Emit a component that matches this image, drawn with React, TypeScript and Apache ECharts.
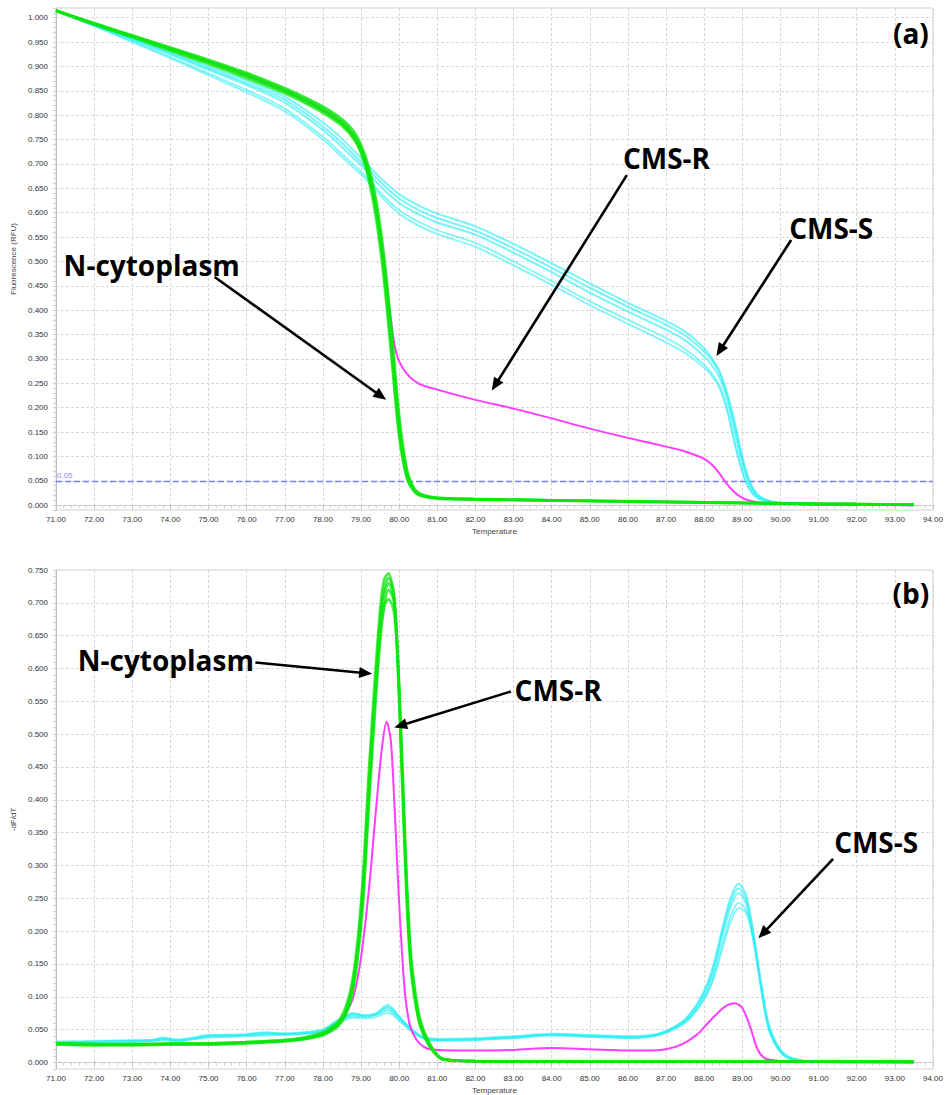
import React, { useEffect, useRef } from "react";
import * as echarts from "echarts";

// ---------- axes ----------
const X_MIN = 71;
const X_MAX = 94;
const GRID_LINES_A = [0, 0.05, 0.1, 0.15, 0.2, 0.25, 0.3, 0.35, 0.4, 0.45, 0.5, 0.55, 0.6, 0.65, 0.7, 0.75, 0.8, 0.85, 0.9, 0.95, 1.0];
const GRID_LINES_B = [0, 0.05, 0.1, 0.15, 0.2, 0.25, 0.3, 0.35, 0.4, 0.45, 0.5, 0.55, 0.6, 0.65, 0.7];
const THRESHOLD = 0.05;

// ---------- (a) melt curves: Fluorescence (RFU) ----------
const TEMP_MELT_N = [71, 72, 73, 74, 75, 76, 77, 77.5, 78, 78.5, 78.8, 79, 79.2, 79.4, 79.6, 79.8, 80, 80.2, 80.4, 80.6, 81, 82, 84, 86, 88, 90, 92, 93.5];
const MELT_N_1 = [1.015, 0.988, 0.962, 0.936, 0.91, 0.882, 0.85, 0.832, 0.811, 0.784, 0.758, 0.729, 0.68, 0.606, 0.489, 0.332, 0.161, 0.065, 0.03, 0.02, 0.014, 0.012, 0.01, 0.008, 0.006, 0.004, 0.002, 0.001];
const MELT_N_2 = [1.015, 0.987, 0.96, 0.932, 0.905, 0.876, 0.845, 0.826, 0.805, 0.778, 0.752, 0.722, 0.668, 0.585, 0.462, 0.3, 0.14, 0.055, 0.027, 0.018, 0.013, 0.011, 0.009, 0.007, 0.005, 0.003, 0.002, 0.001];
const MELT_N_3 = [1.015, 0.989, 0.964, 0.939, 0.914, 0.887, 0.856, 0.838, 0.818, 0.792, 0.768, 0.74, 0.695, 0.625, 0.515, 0.362, 0.185, 0.075, 0.034, 0.022, 0.015, 0.013, 0.01, 0.008, 0.006, 0.004, 0.002, 0.001];
const MELT_N_4 = [1.014, 0.986, 0.961, 0.935, 0.908, 0.88, 0.849, 0.83, 0.809, 0.782, 0.755, 0.726, 0.676, 0.6, 0.478, 0.318, 0.15, 0.06, 0.029, 0.019, 0.014, 0.012, 0.01, 0.007, 0.005, 0.003, 0.002, 0.001];
const MELT_N_5 = [1.015, 0.988, 0.963, 0.938, 0.912, 0.885, 0.853, 0.835, 0.815, 0.788, 0.763, 0.735, 0.688, 0.615, 0.502, 0.346, 0.172, 0.07, 0.032, 0.021, 0.015, 0.012, 0.01, 0.008, 0.006, 0.004, 0.002, 0.001];

const TEMP_MELT_R = [71, 72, 73, 74, 75, 76, 77, 77.5, 78, 78.5, 78.8, 79, 79.2, 79.4, 79.6, 79.8, 79.9, 80, 80.2, 80.5, 81, 82, 83, 84, 85, 86, 87, 87.5, 88, 88.3, 88.6, 88.8, 89, 89.2, 89.5, 90, 91, 93.5];
const MELT_R = [1.015, 0.988, 0.962, 0.936, 0.91, 0.882, 0.85, 0.832, 0.811, 0.784, 0.758, 0.729, 0.68, 0.606, 0.5, 0.37, 0.32, 0.295, 0.27, 0.25, 0.237, 0.216, 0.198, 0.178, 0.157, 0.138, 0.12, 0.11, 0.095, 0.075, 0.043, 0.026, 0.015, 0.009, 0.005, 0.003, 0.001, 0.0];

const TEMP_MELT_S = [71, 72, 73, 74, 75, 76, 77, 78, 78.5, 79, 79.5, 80, 80.5, 81, 82, 83, 84, 85, 86, 87, 87.5, 88, 88.2, 88.4, 88.6, 88.8, 89, 89.2, 89.4, 89.7, 90, 91, 92, 93.5];
const MELT_S_1 = [1.015, 0.985, 0.955, 0.925, 0.893, 0.862, 0.826, 0.77, 0.735, 0.697, 0.655, 0.62, 0.597, 0.58, 0.555, 0.518, 0.478, 0.436, 0.397, 0.36, 0.338, 0.305, 0.287, 0.262, 0.215, 0.15, 0.085, 0.04, 0.018, 0.008, 0.005, 0.002, 0.001, 0.0];
const MELT_S_2 = [1.015, 0.986, 0.958, 0.93, 0.9, 0.871, 0.838, 0.785, 0.752, 0.712, 0.672, 0.638, 0.615, 0.598, 0.572, 0.536, 0.496, 0.455, 0.415, 0.378, 0.356, 0.322, 0.302, 0.275, 0.23, 0.17, 0.1, 0.048, 0.022, 0.009, 0.005, 0.002, 0.001, 0.0];
const MELT_S_3 = [1.015, 0.984, 0.952, 0.92, 0.886, 0.852, 0.814, 0.756, 0.72, 0.684, 0.642, 0.605, 0.582, 0.564, 0.538, 0.5, 0.46, 0.418, 0.38, 0.343, 0.32, 0.288, 0.27, 0.245, 0.198, 0.13, 0.07, 0.032, 0.015, 0.007, 0.004, 0.002, 0.001, 0.0];
const MELT_S_4 = [1.015, 0.985, 0.956, 0.927, 0.896, 0.866, 0.832, 0.777, 0.743, 0.704, 0.664, 0.629, 0.606, 0.589, 0.563, 0.527, 0.487, 0.446, 0.407, 0.37, 0.348, 0.315, 0.297, 0.272, 0.228, 0.163, 0.092, 0.044, 0.02, 0.008, 0.005, 0.002, 0.001, 0.0];
const MELT_S_5 = [1.014, 0.983, 0.95, 0.917, 0.882, 0.847, 0.808, 0.75, 0.714, 0.678, 0.636, 0.598, 0.574, 0.556, 0.53, 0.492, 0.452, 0.41, 0.372, 0.334, 0.312, 0.282, 0.265, 0.24, 0.193, 0.125, 0.066, 0.03, 0.014, 0.007, 0.004, 0.002, 0.001, 0.0];

// ---------- (b) derivative curves: -dF/dT ----------
const TEMP_DERIV_N = [71, 72, 73, 74, 75, 76, 77, 77.5, 78, 78.2, 78.4, 78.6, 78.75, 78.9, 79.05, 79.2, 79.35, 79.5, 79.6, 79.72, 79.85, 79.92, 80.0, 80.1, 80.2, 80.3, 80.4, 80.55, 80.8, 81.1, 81.5, 82, 85, 90, 93.5];
const DERIV_N_1 = [0.028, 0.027, 0.027, 0.028, 0.028, 0.03, 0.033, 0.036, 0.043, 0.05, 0.058, 0.078, 0.107, 0.165, 0.26, 0.41, 0.545, 0.664, 0.71, 0.73, 0.71, 0.664, 0.563, 0.41, 0.26, 0.158, 0.107, 0.06, 0.026, 0.006, 0.003, 0.002, 0.001, 0.001, 0.001];
const DERIV_N_2 = [0.029, 0.028, 0.027, 0.028, 0.029, 0.031, 0.034, 0.038, 0.046, 0.053, 0.062, 0.085, 0.118, 0.18, 0.285, 0.44, 0.575, 0.69, 0.735, 0.745, 0.715, 0.66, 0.55, 0.39, 0.24, 0.145, 0.098, 0.055, 0.024, 0.006, 0.003, 0.002, 0.001, 0.001, 0.001];
const DERIV_N_3 = [0.027, 0.026, 0.026, 0.027, 0.027, 0.029, 0.032, 0.035, 0.041, 0.047, 0.055, 0.072, 0.098, 0.152, 0.24, 0.385, 0.52, 0.64, 0.69, 0.72, 0.705, 0.668, 0.575, 0.43, 0.28, 0.172, 0.118, 0.066, 0.029, 0.007, 0.003, 0.002, 0.001, 0.001, 0.001];
const DERIV_N_4 = [0.028, 0.027, 0.028, 0.028, 0.028, 0.03, 0.033, 0.036, 0.043, 0.049, 0.057, 0.076, 0.104, 0.16, 0.252, 0.4, 0.535, 0.65, 0.695, 0.705, 0.69, 0.65, 0.555, 0.405, 0.258, 0.157, 0.105, 0.058, 0.025, 0.006, 0.003, 0.002, 0.001, 0.001, 0.001];
const DERIV_N_5 = [0.029, 0.028, 0.028, 0.029, 0.029, 0.031, 0.034, 0.037, 0.044, 0.051, 0.06, 0.08, 0.11, 0.17, 0.27, 0.42, 0.555, 0.675, 0.72, 0.738, 0.72, 0.672, 0.57, 0.415, 0.265, 0.162, 0.11, 0.061, 0.027, 0.006, 0.003, 0.002, 0.001, 0.001, 0.001];

const TEMP_DERIV_R = [71, 72, 73, 74, 75, 76, 77, 77.5, 78, 78.3, 78.6, 78.8, 79, 79.2, 79.4, 79.55, 79.67, 79.78, 79.87, 79.95, 80.03, 80.15, 80.28, 80.45, 80.7, 81, 82, 83, 84, 85, 86, 86.5, 87, 87.4, 87.8, 88.1, 88.4, 88.6, 88.8, 89.0, 89.2, 89.4, 89.6, 90, 91, 93.5];
const DERIV_R = [0.028, 0.027, 0.027, 0.028, 0.028, 0.03, 0.033, 0.036, 0.043, 0.052, 0.075, 0.1, 0.16, 0.26, 0.39, 0.48, 0.519, 0.49, 0.4, 0.3, 0.21, 0.107, 0.057, 0.035, 0.022, 0.019, 0.018, 0.019, 0.022, 0.02, 0.018, 0.018, 0.02, 0.027, 0.042, 0.06, 0.078, 0.087, 0.09, 0.083, 0.055, 0.02, 0.006, 0.002, 0.001, 0.0];

const TEMP_DERIV_S = [71, 71.5, 72, 72.5, 73, 73.5, 73.8, 74.2, 74.6, 75, 75.5, 76, 76.5, 77, 77.5, 78, 78.4, 78.8, 79.1, 79.4, 79.7, 80, 80.3, 80.6, 81, 82, 83, 84, 85, 86, 86.6, 87, 87.5, 87.9, 88.2, 88.5, 88.7, 88.9, 89.1, 89.3, 89.5, 89.7, 90, 90.3, 91, 93.5];
const DERIV_S_1 = [0.031, 0.032, 0.031, 0.033, 0.033, 0.034, 0.038, 0.034, 0.037, 0.041, 0.042, 0.043, 0.046, 0.044, 0.045, 0.05, 0.065, 0.075, 0.072, 0.075, 0.088, 0.07, 0.052, 0.039, 0.035, 0.036, 0.039, 0.043, 0.041, 0.039, 0.041, 0.048, 0.066, 0.098, 0.14, 0.21, 0.252, 0.272, 0.255, 0.195, 0.115, 0.052, 0.017, 0.006, 0.001, 0.0];
const DERIV_S_2 = [0.03, 0.031, 0.031, 0.032, 0.032, 0.033, 0.036, 0.033, 0.036, 0.04, 0.04, 0.041, 0.043, 0.043, 0.044, 0.048, 0.062, 0.072, 0.07, 0.072, 0.08, 0.066, 0.05, 0.038, 0.034, 0.035, 0.038, 0.042, 0.04, 0.038, 0.04, 0.046, 0.063, 0.092, 0.13, 0.198, 0.238, 0.258, 0.242, 0.185, 0.11, 0.05, 0.016, 0.005, 0.001, 0.0];
const DERIV_S_3 = [0.029, 0.03, 0.03, 0.031, 0.031, 0.032, 0.034, 0.032, 0.035, 0.038, 0.039, 0.04, 0.041, 0.042, 0.043, 0.047, 0.06, 0.068, 0.067, 0.069, 0.076, 0.063, 0.048, 0.037, 0.033, 0.034, 0.037, 0.041, 0.039, 0.037, 0.039, 0.045, 0.06, 0.087, 0.122, 0.185, 0.224, 0.243, 0.232, 0.182, 0.112, 0.053, 0.018, 0.006, 0.001, 0.0];
const DERIV_S_4 = [0.032, 0.032, 0.033, 0.033, 0.034, 0.034, 0.036, 0.035, 0.038, 0.042, 0.041, 0.042, 0.045, 0.044, 0.046, 0.05, 0.063, 0.07, 0.069, 0.073, 0.083, 0.068, 0.051, 0.04, 0.036, 0.037, 0.04, 0.044, 0.042, 0.04, 0.042, 0.047, 0.062, 0.088, 0.12, 0.178, 0.215, 0.235, 0.228, 0.185, 0.12, 0.058, 0.02, 0.007, 0.001, 0.0];
const DERIV_S_5 = [0.03, 0.03, 0.032, 0.032, 0.033, 0.033, 0.035, 0.034, 0.036, 0.04, 0.041, 0.042, 0.044, 0.043, 0.045, 0.049, 0.064, 0.074, 0.071, 0.074, 0.085, 0.069, 0.051, 0.038, 0.034, 0.035, 0.038, 0.042, 0.04, 0.038, 0.04, 0.047, 0.065, 0.095, 0.136, 0.205, 0.246, 0.265, 0.248, 0.19, 0.112, 0.05, 0.016, 0.005, 0.001, 0.0];

// ---------- annotations (data coordinates) ----------
const PANEL_LABELS = [
  { grid: 0, text: "(a)", at: [93.42, 0.969] },
  { grid: 1, text: "(b)", at: [93.42, 0.715] },
];
const TEXT_LABELS = [
  { grid: 0, text: "N-cytoplasm", at: [73.51, 0.493] },
  { grid: 0, text: "CMS-R", at: [87.01, 0.712] },
  { grid: 0, text: "CMS-S", at: [91.33, 0.568] },
  { grid: 1, text: "N-cytoplasm", at: [73.88, 0.613] },
  { grid: 1, text: "CMS-R", at: [84.17, 0.567] },
  { grid: 1, text: "CMS-S", at: [92.51, 0.336] },
];
const ARROWS = [
  { grid: 0, from: [75.16, 0.468], to: [79.66, 0.216] },
  { grid: 0, from: [85.97, 0.677], to: [82.43, 0.235] },
  { grid: 0, from: [90.28, 0.544], to: [88.32, 0.306] },
  { grid: 1, from: [76.23, 0.609], to: [79.29, 0.592] },
  { grid: 1, from: [82.93, 0.565], to: [79.87, 0.51] },
  { grid: 1, from: [91.38, 0.31], to: [89.42, 0.189] },
];

const TICK_FONT = "Liberation Sans";
const GREEN = "#0ee60e";
const CYAN = "#2feef4";
const MAGENTA = "#ff3cff";

const zip = (t: number[], v: number[]) => t.map((x, i) => [x, v[i]]);

function curve(g: number, t: number[], v: number[], color: string, width: number, opacity: number, extra: any = {}) {
  return {
    type: "line",
    xAxisIndex: g,
    yAxisIndex: g,
    data: zip(t, v),
    symbol: "none",
    showSymbol: false,
    smooth: 0.3,
    silent: true,
    lineStyle: { color, width, opacity },
    ...extra,
  };
}

function gridMarkLine(lines: number[], withThreshold: boolean) {
  const data: any[] = lines.map((v) => ({ yAxis: v }));
  if (withThreshold) {
    data.push({
      yAxis: THRESHOLD,
      lineStyle: { color: "#7b7bff", width: 1.4, type: [6, 3], opacity: 1 },
      label: {
        show: true,
        position: "insideStartTop",
        formatter: "0.05",
        color: "#8c8cff",
        fontSize: 8,
        fontFamily: TICK_FONT,
        distance: 1,
      },
    });
  }
  return {
    markLine: {
      silent: true,
      symbol: ["none", "none"],
      z: 1,
      animation: false,
      label: { show: false },
      lineStyle: { color: "#d8d8d8", width: 1, type: [3, 2] },
      emphasis: { disabled: true },
      data,
    },
  };
}

function xAxis(g: number) {
  return {
    type: "value",
    gridIndex: g,
    min: X_MIN,
    max: X_MAX,
    interval: 1,
    name: "Temperature",
    nameLocation: "middle",
    nameGap: 17,
    nameTextStyle: { fontSize: 8, color: "#444", fontFamily: TICK_FONT },
    axisLine: { show: true, lineStyle: { color: "#bdbdbd" } },
    axisTick: { show: true, length: 3, lineStyle: { color: "#bdbdbd" } },
    minorTick: { show: true, splitNumber: 5, length: 3, lineStyle: { color: "#cfcfcf" } },
    axisLabel: {
      fontSize: 8,
      color: "#333",
      fontFamily: TICK_FONT,
      margin: 5,
      formatter: (v: number) => v.toFixed(2),
    },
    splitLine: { show: true, lineStyle: { color: "#d8d8d8", type: [3, 2] } },
  };
}

function yAxis(g: number, max: number, name: string, nameGap: number) {
  return {
    type: "value",
    gridIndex: g,
    min: -0.01,
    max,
    interval: 0.01,
    name,
    nameLocation: "middle",
    nameGap,
    nameTextStyle: { fontSize: 8, color: "#444", fontFamily: TICK_FONT },
    axisLine: { show: true, lineStyle: { color: "#bdbdbd" } },
    axisTick: { show: true, length: 3, lineStyle: { color: "#cfcfcf" } },
    axisLabel: {
      fontSize: 8,
      color: "#333",
      fontFamily: TICK_FONT,
      margin: 8,
      formatter: (v: number) => {
        const k = Math.round(v * 100);
        return k >= 0 && k % 5 === 0 ? (k / 100).toFixed(3) : "";
      },
    },
    splitLine: { show: false },
  };
}

export default function App() {
  const ref = useRef<HTMLDivElement>(null);
  useEffect(() => {
    document.body.style.margin = "0";
    if (!ref.current) return;
    const chart = echarts.init(ref.current, undefined, { renderer: "svg" });
    const series: any[] = [
      // (a)
      curve(0, TEMP_MELT_S, MELT_S_1, CYAN, 2, 0.65, gridMarkLine(GRID_LINES_A, true)),
      curve(0, TEMP_MELT_S, MELT_S_2, CYAN, 2, 0.65),
      curve(0, TEMP_MELT_S, MELT_S_3, CYAN, 1.8, 0.6),
      curve(0, TEMP_MELT_S, MELT_S_4, CYAN, 2, 0.65),
      curve(0, TEMP_MELT_S, MELT_S_5, CYAN, 1.8, 0.6),
      curve(0, TEMP_MELT_R, MELT_R, MAGENTA, 2, 1),
      curve(0, TEMP_MELT_N, MELT_N_1, GREEN, 2.6, 0.75),
      curve(0, TEMP_MELT_N, MELT_N_2, GREEN, 2.6, 0.75),
      curve(0, TEMP_MELT_N, MELT_N_3, GREEN, 2.6, 0.75),
      curve(0, TEMP_MELT_N, MELT_N_4, GREEN, 2.6, 0.75),
      curve(0, TEMP_MELT_N, MELT_N_5, GREEN, 2.6, 0.75),
      // (b)
      curve(1, TEMP_DERIV_S, DERIV_S_1, CYAN, 2, 0.65, gridMarkLine(GRID_LINES_B, false)),
      curve(1, TEMP_DERIV_S, DERIV_S_2, CYAN, 2, 0.65),
      curve(1, TEMP_DERIV_S, DERIV_S_3, CYAN, 1.8, 0.6),
      curve(1, TEMP_DERIV_S, DERIV_S_4, CYAN, 1.8, 0.6),
      curve(1, TEMP_DERIV_S, DERIV_S_5, CYAN, 2, 0.65),
      curve(1, TEMP_DERIV_R, DERIV_R, MAGENTA, 2, 1),
      curve(1, TEMP_DERIV_N, DERIV_N_1, GREEN, 2.6, 0.75),
      curve(1, TEMP_DERIV_N, DERIV_N_2, GREEN, 2.6, 0.75),
      curve(1, TEMP_DERIV_N, DERIV_N_3, GREEN, 2.6, 0.75),
      curve(1, TEMP_DERIV_N, DERIV_N_4, GREEN, 2.6, 0.75),
      curve(1, TEMP_DERIV_N, DERIV_N_5, GREEN, 2.6, 0.75),
    ];
    chart.setOption({
      animation: false,
      backgroundColor: "#ffffff",
      grid: [
        { left: 56, right: 11, top: 8, height: 502, show: true, borderColor: "#d0d0d0", borderWidth: 1, backgroundColor: "transparent" },
        { left: 56, right: 11, top: 570, height: 501, show: true, borderColor: "#d0d0d0", borderWidth: 1, backgroundColor: "transparent" },
      ],
      xAxis: [xAxis(0), xAxis(1)],
      yAxis: [yAxis(0, 1.02, "Fluorescence (RFU)", 38), yAxis(1, 0.75, "-dF/dT", 38)],
      series,
    });

    const px = (g: number, p: number[]) => chart.convertToPixel({ gridIndex: g } as any, p) as number[];
    const graphics: any[] = [];
    const annFont = 'bold 28px "Open Sans", "Noto Sans", sans-serif';
    TEXT_LABELS.concat(PANEL_LABELS).forEach((l) => {
      const p = px(l.grid, l.at);
      graphics.push({
        type: "text",
        x: p[0],
        y: p[1],
        z: 100,
        silent: true,
        style: { text: l.text, font: annFont, fill: "#000", align: "center", verticalAlign: "middle" },
      });
    });
    ARROWS.forEach((a) => {
      const p0 = px(a.grid, a.from);
      const p1 = px(a.grid, a.to);
      const dx = p1[0] - p0[0];
      const dy = p1[1] - p0[1];
      const L = Math.hypot(dx, dy);
      const ux = dx / L;
      const uy = dy / L;
      const headL = 13;
      const headW = 5.5;
      const bx = p1[0] - ux * headL;
      const by = p1[1] - uy * headL;
      graphics.push({
        type: "line",
        z: 100,
        silent: true,
        shape: { x1: p0[0], y1: p0[1], x2: bx + ux * 2, y2: by + uy * 2 },
        style: { stroke: "#000", lineWidth: 2.6 },
      });
      graphics.push({
        type: "polygon",
        z: 100,
        silent: true,
        shape: { points: [[p1[0], p1[1]], [bx - uy * headW, by + ux * headW], [bx + uy * headW, by - ux * headW]] },
        style: { fill: "#000" },
      });
    });
    chart.setOption({ graphic: graphics });
    return () => chart.dispose();
  }, []);
  return <div ref={ref} style={{ position: "absolute", left: 0, top: 0, width: 946, height: 1095 }} />;
}
